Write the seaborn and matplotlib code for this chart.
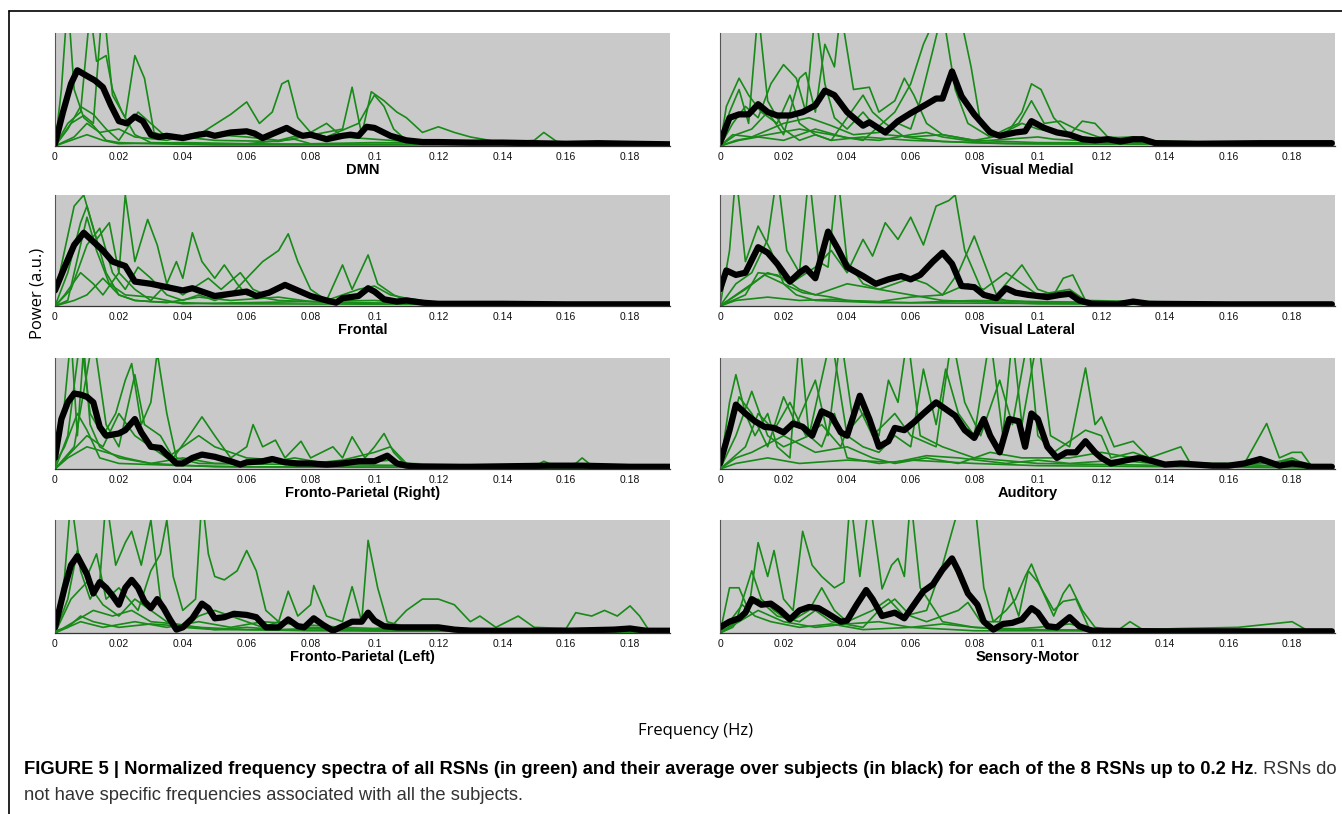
import numpy as np
import pandas as pd
import seaborn as sns
import matplotlib
matplotlib.use("Agg")
from matplotlib import pyplot as plt
from matplotlib.ticker import FixedLocator, FuncFormatter
from matplotlib.lines import Line2D

# Panel names, in reading order (left column first row, right column first row, ...)
panel_names = ["DMN", "Visual Medial", "Frontal", "Visual Lateral",
               "Fronto-Parietal (Right)", "Auditory",
               "Fronto-Parietal (Left)", "Sensory-Motor"]

tick_freqs = [0, 0.02, 0.04, 0.06, 0.08, 0.1, 0.12, 0.14, 0.16, 0.18]

# Average spectra (black), (frequency Hz, normalized power)
dmn_mean = [(0, 0.02), (0.0025, 0.30), (0.005, 0.55), (0.007, 0.67), (0.01, 0.62), (0.0125, 0.58),
            (0.015, 0.52), (0.0175, 0.36), (0.02, 0.22), (0.0225, 0.20), (0.025, 0.26), (0.0275, 0.22),
            (0.03, 0.10), (0.0325, 0.08), (0.035, 0.09), (0.04, 0.07), (0.045, 0.10), (0.0475, 0.11),
            (0.05, 0.09), (0.055, 0.12), (0.06, 0.13), (0.0625, 0.11), (0.065, 0.07), (0.07, 0.13),
            (0.0725, 0.16), (0.075, 0.12), (0.0775, 0.09), (0.08, 0.10), (0.085, 0.06), (0.09, 0.09),
            (0.0925, 0.10), (0.095, 0.09), (0.0975, 0.17), (0.1, 0.16), (0.105, 0.09), (0.11, 0.05),
            (0.115, 0.035), (0.12, 0.035), (0.13, 0.03), (0.14, 0.03), (0.15, 0.025), (0.16, 0.02),
            (0.17, 0.025), (0.18, 0.02), (0.1925, 0.015)]
vm_mean = [(0, 0.03), (0.003, 0.25), (0.006, 0.28), (0.009, 0.28), (0.012, 0.37), (0.015, 0.30),
           (0.018, 0.27), (0.022, 0.27), (0.026, 0.30), (0.03, 0.36), (0.033, 0.49), (0.036, 0.45),
           (0.04, 0.30), (0.045, 0.18), (0.047, 0.21), (0.052, 0.12), (0.056, 0.22), (0.06, 0.29),
           (0.065, 0.37), (0.068, 0.42), (0.07, 0.42), (0.073, 0.66), (0.076, 0.44), (0.08, 0.28),
           (0.085, 0.12), (0.088, 0.09), (0.093, 0.12), (0.096, 0.13), (0.098, 0.22), (0.102, 0.16),
           (0.106, 0.12), (0.11, 0.10), (0.114, 0.06), (0.118, 0.05), (0.122, 0.06), (0.126, 0.04),
           (0.13, 0.06), (0.133, 0.06), (0.137, 0.025), (0.15, 0.02), (0.17, 0.025), (0.1925, 0.025)]
fr_mean = [(0, 0.14), (0.003, 0.35), (0.006, 0.55), (0.009, 0.66), (0.012, 0.58), (0.015, 0.50),
           (0.018, 0.40), (0.022, 0.36), (0.025, 0.22), (0.03, 0.20), (0.035, 0.17), (0.04, 0.14),
           (0.043, 0.16), (0.047, 0.12), (0.05, 0.09), (0.055, 0.11), (0.06, 0.13), (0.063, 0.09),
           (0.067, 0.12), (0.072, 0.19), (0.076, 0.14), (0.08, 0.09), (0.085, 0.05), (0.088, 0.03),
           (0.09, 0.07), (0.095, 0.09), (0.098, 0.16), (0.1, 0.13), (0.103, 0.06), (0.107, 0.04),
           (0.11, 0.05), (0.115, 0.03), (0.12, 0.02), (0.14, 0.02), (0.16, 0.015), (0.1925, 0.015)]
vl_mean = [(0, 0.15), (0.002, 0.32), (0.005, 0.28), (0.008, 0.30), (0.012, 0.53), (0.015, 0.48),
           (0.018, 0.38), (0.022, 0.22), (0.025, 0.30), (0.027, 0.34), (0.03, 0.25), (0.034, 0.67),
           (0.037, 0.52), (0.04, 0.35), (0.045, 0.27), (0.049, 0.20), (0.053, 0.24), (0.057, 0.27),
           (0.06, 0.24), (0.063, 0.28), (0.067, 0.40), (0.07, 0.48), (0.073, 0.38), (0.076, 0.18),
           (0.08, 0.17), (0.083, 0.10), (0.087, 0.07), (0.09, 0.16), (0.093, 0.12), (0.097, 0.10),
           (0.1, 0.09), (0.103, 0.08), (0.107, 0.10), (0.11, 0.11), (0.113, 0.05), (0.117, 0.02),
           (0.125, 0.015), (0.13, 0.04), (0.135, 0.02), (0.16, 0.015), (0.1925, 0.015)]
fpr_mean = [(0, 0.10), (0.002, 0.45), (0.004, 0.60), (0.006, 0.68), (0.008, 0.67), (0.01, 0.65),
            (0.012, 0.60), (0.014, 0.38), (0.016, 0.30), (0.02, 0.32), (0.022, 0.35), (0.025, 0.45),
            (0.027, 0.33), (0.03, 0.20), (0.033, 0.19), (0.035, 0.13), (0.038, 0.05), (0.04, 0.05),
            (0.043, 0.10), (0.046, 0.13), (0.05, 0.11), (0.055, 0.07), (0.058, 0.04), (0.06, 0.06),
            (0.065, 0.07), (0.068, 0.09), (0.072, 0.06), (0.076, 0.05), (0.08, 0.05), (0.085, 0.04),
            (0.09, 0.05), (0.095, 0.07), (0.1, 0.07), (0.104, 0.12), (0.107, 0.05), (0.11, 0.03),
            (0.115, 0.02), (0.13, 0.02), (0.155, 0.03), (0.165, 0.03), (0.18, 0.02), (0.1925, 0.02)]
aud_mean = [(0, 0.05), (0.003, 0.35), (0.005, 0.58), (0.008, 0.50), (0.011, 0.43), (0.014, 0.38),
            (0.017, 0.37), (0.02, 0.33), (0.023, 0.41), (0.026, 0.38), (0.029, 0.30), (0.032, 0.52),
            (0.035, 0.48), (0.038, 0.33), (0.04, 0.30), (0.044, 0.66), (0.047, 0.45), (0.05, 0.20),
            (0.053, 0.25), (0.055, 0.37), (0.058, 0.35), (0.061, 0.42), (0.064, 0.50), (0.068, 0.60),
            (0.071, 0.54), (0.074, 0.48), (0.077, 0.35), (0.08, 0.28), (0.083, 0.45), (0.085, 0.30),
            (0.088, 0.15), (0.091, 0.45), (0.094, 0.43), (0.096, 0.20), (0.098, 0.50), (0.1, 0.45),
            (0.103, 0.20), (0.106, 0.10), (0.109, 0.15), (0.112, 0.15), (0.115, 0.25), (0.118, 0.15),
            (0.12, 0.10), (0.123, 0.05), (0.128, 0.08), (0.132, 0.10), (0.135, 0.08), (0.14, 0.04),
            (0.145, 0.05), (0.15, 0.04), (0.155, 0.03), (0.16, 0.03), (0.165, 0.05), (0.17, 0.09),
            (0.173, 0.06), (0.176, 0.03), (0.18, 0.05), (0.183, 0.04), (0.186, 0.02), (0.1925, 0.02)]
fpl_mean = [(0, 0.05), (0.003, 0.40), (0.005, 0.60), (0.007, 0.68), (0.01, 0.52), (0.012, 0.35),
            (0.014, 0.45), (0.016, 0.40), (0.018, 0.33), (0.02, 0.25), (0.022, 0.40), (0.024, 0.47),
            (0.026, 0.40), (0.028, 0.28), (0.03, 0.22), (0.032, 0.30), (0.034, 0.22), (0.036, 0.12),
            (0.038, 0.03), (0.04, 0.05), (0.043, 0.13), (0.046, 0.26), (0.048, 0.22), (0.05, 0.13),
            (0.053, 0.14), (0.056, 0.17), (0.06, 0.16), (0.063, 0.14), (0.066, 0.05), (0.07, 0.05),
            (0.073, 0.12), (0.076, 0.06), (0.078, 0.05), (0.081, 0.13), (0.084, 0.07), (0.087, 0.02),
            (0.09, 0.06), (0.093, 0.10), (0.096, 0.10), (0.098, 0.18), (0.1, 0.11), (0.103, 0.06),
            (0.107, 0.05), (0.12, 0.05), (0.125, 0.03), (0.13, 0.02), (0.16, 0.02), (0.175, 0.03),
            (0.18, 0.04), (0.185, 0.02), (0.1925, 0.02)]
sm_mean = [(0, 0.05), (0.003, 0.10), (0.006, 0.13), (0.008, 0.18), (0.01, 0.30), (0.013, 0.25),
           (0.016, 0.26), (0.019, 0.20), (0.022, 0.12), (0.025, 0.20), (0.028, 0.23), (0.031, 0.22),
           (0.034, 0.17), (0.038, 0.10), (0.04, 0.11), (0.043, 0.25), (0.046, 0.38), (0.048, 0.30),
           (0.051, 0.15), (0.055, 0.18), (0.058, 0.13), (0.061, 0.25), (0.064, 0.37), (0.067, 0.43),
           (0.07, 0.56), (0.073, 0.66), (0.075, 0.55), (0.078, 0.35), (0.081, 0.25), (0.083, 0.10),
           (0.086, 0.03), (0.089, 0.08), (0.092, 0.09), (0.095, 0.12), (0.098, 0.22), (0.1, 0.18),
           (0.103, 0.06), (0.106, 0.05), (0.11, 0.14), (0.113, 0.06), (0.117, 0.02), (0.14, 0.015),
           (0.16, 0.015), (0.1925, 0.015)]

# Individual subject spectra (green)
dmn_subj = [
    [(0, 0), (0.002, 0.5), (0.004, 1.3), (0.006, 0.5), (0.009, 0.25), (0.012, 0.18), (0.016, 0.05),
     (0.02, 0.03), (0.03, 0.02), (0.05, 0.01), (0.1, 0.01), (0.19, 0.01)],
    [(0, 0), (0.004, 0.2), (0.008, 0.3), (0.011, 1.2), (0.013, 0.75), (0.016, 0.8), (0.018, 0.5),
     (0.021, 0.3), (0.025, 0.1), (0.03, 0.03), (0.05, 0.02), (0.19, 0.01)],
    [(0, 0), (0.005, 0.2), (0.009, 0.27), (0.012, 0.2), (0.015, 1.3), (0.018, 0.45), (0.022, 0.25),
     (0.025, 0.8), (0.028, 0.6), (0.031, 0.12), (0.035, 0.08), (0.045, 0.1), (0.055, 0.28),
     (0.06, 0.39), (0.064, 0.2), (0.068, 0.3), (0.071, 0.55), (0.073, 0.58), (0.076, 0.25),
     (0.08, 0.12), (0.085, 0.2), (0.09, 0.08), (0.12, 0.02), (0.19, 0.02)],
    [(0, 0), (0.004, 0.15), (0.008, 0.35), (0.012, 0.28), (0.016, 0.15), (0.02, 0.05), (0.026, 0.3),
     (0.03, 0.2), (0.034, 0.1), (0.04, 0.08), (0.05, 0.05), (0.07, 0.04), (0.09, 0.15), (0.093, 0.52),
     (0.096, 0.1), (0.099, 0.48), (0.103, 0.4), (0.107, 0.3), (0.11, 0.25), (0.115, 0.12),
     (0.12, 0.17), (0.125, 0.12), (0.13, 0.08), (0.14, 0.03), (0.15, 0.05), (0.153, 0.12),
     (0.157, 0.04), (0.165, 0.02), (0.19, 0.02)],
    [(0, 0), (0.006, 0.08), (0.01, 0.2), (0.014, 0.12), (0.02, 0.15), (0.025, 0.08), (0.035, 0.05),
     (0.045, 0.12), (0.05, 0.1), (0.06, 0.08), (0.07, 0.05), (0.08, 0.12), (0.085, 0.08),
     (0.095, 0.2), (0.1, 0.45), (0.103, 0.35), (0.106, 0.15), (0.11, 0.05), (0.13, 0.02), (0.19, 0.02)],
    [(0, 0), (0.005, 0.05), (0.01, 0.1), (0.015, 0.05), (0.02, 0.02), (0.04, 0.03), (0.06, 0.02),
     (0.075, 0.06), (0.08, 0.02), (0.1, 0.03), (0.19, 0.01)],
]
vm_subj = [
    [(0, 0), (0.003, 0.3), (0.006, 0.5), (0.009, 0.2), (0.012, 1.2), (0.015, 0.4), (0.02, 0.15),
     (0.025, 0.05), (0.03, 0.1), (0.035, 0.05), (0.045, 0.08), (0.06, 0.05), (0.08, 0.03),
     (0.1, 0.02), (0.19, 0.01)],
    [(0, 0), (0.004, 0.2), (0.008, 0.35), (0.012, 0.25), (0.016, 0.55), (0.02, 0.72), (0.024, 0.6),
     (0.027, 0.3), (0.03, 1.2), (0.033, 0.55), (0.036, 0.25), (0.04, 0.15), (0.045, 0.3),
     (0.048, 0.2), (0.052, 0.1), (0.06, 0.08), (0.07, 0.1), (0.08, 0.05), (0.1, 0.03), (0.19, 0.02)],
    [(0, 0), (0.005, 0.1), (0.01, 0.15), (0.015, 0.3), (0.02, 0.1), (0.025, 0.6), (0.027, 0.65),
     (0.03, 0.3), (0.033, 0.9), (0.036, 0.7), (0.038, 1.2), (0.042, 0.5), (0.047, 0.52), (0.05, 0.3),
     (0.055, 0.4), (0.058, 0.6), (0.061, 0.45), (0.065, 0.2), (0.07, 0.1), (0.08, 0.05), (0.09, 0.1),
     (0.095, 0.3), (0.098, 0.55), (0.101, 0.5), (0.105, 0.25), (0.11, 0.1), (0.12, 0.05), (0.19, 0.02)],
    [(0, 0), (0.005, 0.05), (0.015, 0.1), (0.025, 0.15), (0.035, 0.1), (0.045, 0.05), (0.055, 0.3),
     (0.06, 0.55), (0.064, 0.9), (0.068, 1.15), (0.072, 1.2), (0.076, 1.1), (0.079, 0.7),
     (0.082, 0.2), (0.088, 0.1), (0.095, 0.2), (0.1, 0.15), (0.11, 0.1), (0.114, 0.22), (0.118, 0.2),
     (0.122, 0.08), (0.13, 0.06), (0.135, 0.04), (0.19, 0.02)],
    [(0, 0), (0.004, 0.1), (0.01, 0.08), (0.02, 0.2), (0.028, 0.25), (0.035, 0.18), (0.042, 0.1),
     (0.05, 0.12), (0.056, 0.2), (0.06, 0.15), (0.063, 0.4), (0.067, 0.85), (0.07, 1.2), (0.074, 0.5),
     (0.078, 0.2), (0.085, 0.08), (0.09, 0.15), (0.094, 0.2), (0.098, 0.4), (0.102, 0.2),
     (0.107, 0.22), (0.112, 0.15), (0.12, 0.07), (0.13, 0.08), (0.14, 0.03), (0.19, 0.02)],
    [(0, 0), (0.006, 0.05), (0.012, 0.08), (0.02, 0.05), (0.03, 0.15), (0.04, 0.07), (0.05, 0.05),
     (0.06, 0.1), (0.065, 0.12), (0.07, 0.08), (0.08, 0.04), (0.1, 0.08), (0.105, 0.06),
     (0.12, 0.04), (0.19, 0.01)],
    [(0, 0), (0.002, 0.35), (0.006, 0.6), (0.009, 0.45), (0.013, 0.3), (0.018, 0.2), (0.022, 0.45),
     (0.025, 0.2), (0.03, 0.1), (0.035, 0.05), (0.045, 0.45), (0.048, 0.3), (0.052, 0.2),
     (0.058, 0.08), (0.07, 0.04), (0.09, 0.02), (0.19, 0.01)],
]
fr_subj = [
    [(0, 0.1), (0.003, 0.5), (0.006, 0.9), (0.009, 1.0), (0.012, 0.7), (0.016, 0.3), (0.02, 0.1),
     (0.025, 0.05), (0.03, 0.04), (0.05, 0.02), (0.19, 0.01)],
    [(0, 0), (0.004, 0.3), (0.008, 0.75), (0.01, 0.9), (0.013, 0.6), (0.017, 0.75), (0.02, 0.3),
     (0.022, 1.0), (0.025, 0.4), (0.029, 0.78), (0.032, 0.55), (0.035, 0.2), (0.038, 0.4),
     (0.04, 0.25), (0.043, 0.66), (0.046, 0.4), (0.05, 0.25), (0.053, 0.37), (0.057, 0.2),
     (0.06, 0.1), (0.07, 0.05), (0.09, 0.03), (0.19, 0.01)],
    [(0, 0), (0.005, 0.15), (0.01, 0.55), (0.014, 0.7), (0.018, 0.3), (0.022, 0.15), (0.026, 0.35),
     (0.03, 0.25), (0.035, 0.1), (0.04, 0.05), (0.045, 0.1), (0.05, 0.05), (0.055, 0.1), (0.06, 0.25),
     (0.065, 0.4), (0.07, 0.5), (0.073, 0.65), (0.076, 0.4), (0.08, 0.15), (0.085, 0.05),
     (0.09, 0.37), (0.093, 0.15), (0.098, 0.46), (0.101, 0.2), (0.106, 0.1), (0.11, 0.05),
     (0.12, 0.02), (0.19, 0.01)],
    [(0, 0), (0.003, 0.1), (0.008, 0.3), (0.012, 0.2), (0.015, 0.1), (0.02, 0.3), (0.025, 0.15),
     (0.03, 0.05), (0.035, 0.2), (0.04, 0.1), (0.048, 0.25), (0.052, 0.15), (0.058, 0.3),
     (0.062, 0.15), (0.066, 0.1), (0.072, 0.2), (0.078, 0.1), (0.085, 0.05), (0.095, 0.15),
     (0.1, 0.18), (0.105, 0.1), (0.11, 0.07), (0.115, 0.05), (0.12, 0.02), (0.19, 0.01)],
    [(0, 0), (0.006, 0.05), (0.01, 0.1), (0.015, 0.25), (0.02, 0.1), (0.025, 0.05), (0.035, 0.03),
     (0.045, 0.08), (0.055, 0.05), (0.07, 0.08), (0.08, 0.04), (0.1, 0.05), (0.11, 0.03), (0.19, 0.01)],
    [(0, 0), (0.004, 0.05), (0.01, 0.8), (0.013, 0.5), (0.017, 0.2), (0.022, 0.1), (0.03, 0.08),
     (0.04, 0.02), (0.06, 0.03), (0.08, 0.04), (0.1, 0.02), (0.19, 0.01)],
]
vl_subj = [
    [(0, 0), (0.003, 0.5), (0.005, 1.2), (0.008, 0.4), (0.012, 0.72), (0.016, 0.5), (0.02, 0.2),
     (0.024, 0.1), (0.03, 0.05), (0.05, 0.03), (0.19, 0.01)],
    [(0, 0), (0.005, 0.2), (0.01, 0.3), (0.015, 0.6), (0.018, 1.2), (0.021, 0.5), (0.025, 0.3),
     (0.028, 1.2), (0.031, 0.4), (0.034, 0.35), (0.037, 1.2), (0.04, 0.4), (0.045, 0.2),
     (0.05, 0.15), (0.06, 0.1), (0.07, 0.05), (0.1, 0.02), (0.19, 0.01)],
    [(0, 0), (0.008, 0.1), (0.012, 0.3), (0.018, 0.28), (0.022, 0.2), (0.03, 0.35), (0.035, 0.5),
     (0.04, 0.3), (0.045, 0.6), (0.048, 0.45), (0.052, 0.75), (0.056, 0.6), (0.06, 0.8),
     (0.064, 0.55), (0.068, 0.9), (0.072, 0.95), (0.074, 1.0), (0.077, 0.5), (0.08, 0.3),
     (0.083, 0.1), (0.09, 0.05), (0.1, 0.03), (0.19, 0.01)],
    [(0, 0), (0.01, 0.2), (0.015, 0.3), (0.02, 0.25), (0.025, 0.15), (0.03, 0.1), (0.04, 0.2),
     (0.05, 0.15), (0.06, 0.25), (0.065, 0.2), (0.07, 0.1), (0.075, 0.3), (0.08, 0.63), (0.083, 0.4),
     (0.087, 0.1), (0.09, 0.2), (0.095, 0.37), (0.1, 0.15), (0.105, 0.1), (0.108, 0.25),
     (0.111, 0.28), (0.115, 0.05), (0.12, 0.02), (0.13, 0.05), (0.135, 0.02), (0.19, 0.01)],
    [(0, 0), (0.008, 0.15), (0.014, 0.28), (0.02, 0.2), (0.026, 0.12), (0.035, 0.08), (0.04, 0.05),
     (0.05, 0.04), (0.06, 0.08), (0.07, 0.1), (0.078, 0.2), (0.083, 0.15), (0.09, 0.3), (0.095, 0.2),
     (0.1, 0.1), (0.11, 0.15), (0.115, 0.05), (0.19, 0.01)],
    [(0, 0), (0.005, 0.05), (0.015, 0.08), (0.025, 0.05), (0.035, 0.06), (0.045, 0.04), (0.06, 0.03),
     (0.08, 0.05), (0.1, 0.04), (0.19, 0.01)],
]
fpr_subj = [
    [(0, 0), (0.003, 0.6), (0.005, 1.2), (0.007, 0.3), (0.009, 1.1), (0.011, 0.4), (0.014, 0.2),
     (0.02, 0.1), (0.03, 0.05), (0.05, 0.02), (0.19, 0.01)],
    [(0, 0), (0.004, 0.3), (0.008, 1.2), (0.011, 0.5), (0.015, 0.3), (0.019, 0.5), (0.022, 0.8),
     (0.024, 0.95), (0.027, 0.4), (0.03, 0.6), (0.032, 1.05), (0.035, 0.5), (0.038, 0.1),
     (0.045, 0.05), (0.19, 0.01)],
    [(0, 0), (0.006, 0.2), (0.012, 1.2), (0.016, 0.4), (0.02, 0.2), (0.025, 0.85), (0.028, 0.4),
     (0.033, 0.3), (0.037, 0.1), (0.042, 0.3), (0.046, 0.47), (0.05, 0.3), (0.055, 0.1), (0.06, 0.2),
     (0.062, 0.4), (0.065, 0.2), (0.069, 0.26), (0.072, 0.1), (0.077, 0.25), (0.08, 0.1),
     (0.087, 0.2), (0.09, 0.1), (0.093, 0.29), (0.097, 0.1), (0.1, 0.2), (0.103, 0.32),
     (0.106, 0.15), (0.11, 0.03), (0.19, 0.01)],
    [(0, 0), (0.005, 0.15), (0.01, 0.3), (0.015, 0.2), (0.02, 0.5), (0.025, 0.3), (0.03, 0.2),
     (0.035, 0.1), (0.045, 0.3), (0.05, 0.2), (0.06, 0.1), (0.07, 0.08), (0.08, 0.05), (0.09, 0.08),
     (0.1, 0.15), (0.105, 0.2), (0.11, 0.05), (0.15, 0.02), (0.153, 0.07), (0.157, 0.02),
     (0.163, 0.05), (0.165, 0.1), (0.168, 0.03), (0.19, 0.01)],
    [(0, 0), (0.004, 0.1), (0.01, 0.2), (0.016, 0.15), (0.022, 0.1), (0.03, 0.05), (0.04, 0.1),
     (0.05, 0.05), (0.065, 0.05), (0.075, 0.1), (0.085, 0.05), (0.095, 0.05), (0.105, 0.08),
     (0.115, 0.02), (0.19, 0.01)],
    [(0, 0.05), (0.003, 0.2), (0.007, 0.5), (0.01, 0.35), (0.014, 0.1), (0.02, 0.05), (0.04, 0.03),
     (0.06, 0.02), (0.19, 0.01)],
]
aud_subj = [
    [(0, 0), (0.003, 0.6), (0.005, 0.85), (0.008, 0.5), (0.011, 0.3), (0.015, 0.5), (0.018, 0.2),
     (0.022, 0.1), (0.025, 1.2), (0.028, 0.3), (0.032, 0.2), (0.036, 0.5), (0.04, 0.1), (0.05, 0.05),
     (0.06, 0.08), (0.08, 0.05), (0.1, 0.03), (0.19, 0.01)],
    [(0, 0), (0.002, 0.2), (0.006, 0.65), (0.01, 0.5), (0.015, 0.2), (0.02, 0.65), (0.024, 0.4),
     (0.03, 0.8), (0.034, 0.3), (0.038, 1.2), (0.042, 0.4), (0.045, 0.5), (0.05, 0.3), (0.053, 0.8),
     (0.056, 0.6), (0.059, 1.2), (0.063, 0.3), (0.07, 0.2), (0.08, 0.1), (0.1, 0.05), (0.19, 0.01)],
    [(0, 0), (0.005, 0.3), (0.01, 0.7), (0.015, 0.3), (0.02, 0.2), (0.028, 0.3), (0.035, 1.2),
     (0.04, 0.3), (0.045, 0.2), (0.05, 0.15), (0.055, 0.3), (0.06, 0.2), (0.064, 0.9), (0.068, 0.4),
     (0.071, 0.9), (0.075, 0.5), (0.08, 0.3), (0.085, 1.2), (0.089, 0.3), (0.092, 1.2), (0.095, 0.4),
     (0.1, 1.2), (0.104, 0.3), (0.11, 0.2), (0.115, 0.91), (0.118, 0.4), (0.12, 0.47), (0.124, 0.2),
     (0.13, 0.25), (0.135, 0.1), (0.145, 0.2), (0.148, 0.05), (0.19, 0.02)],
    [(0, 0), (0.008, 0.2), (0.012, 0.5), (0.017, 0.35), (0.022, 0.6), (0.027, 0.3), (0.032, 0.4),
     (0.038, 0.2), (0.043, 0.6), (0.048, 0.3), (0.055, 0.5), (0.06, 0.3), (0.068, 0.2), (0.073, 1.2),
     (0.077, 0.6), (0.082, 0.3), (0.088, 0.8), (0.092, 0.4), (0.097, 1.2), (0.1, 0.3), (0.105, 0.15),
     (0.11, 0.25), (0.115, 0.35), (0.12, 0.3), (0.123, 0.1), (0.13, 0.15), (0.14, 0.05),
     (0.165, 0.05), (0.172, 0.41), (0.176, 0.1), (0.18, 0.15), (0.183, 0.15), (0.186, 0.03),
     (0.19, 0.02)],
    [(0, 0), (0.005, 0.1), (0.01, 0.15), (0.02, 0.3), (0.03, 0.15), (0.04, 0.2), (0.048, 0.1),
     (0.055, 0.05), (0.065, 0.1), (0.075, 0.05), (0.085, 0.15), (0.095, 0.1), (0.11, 0.1),
     (0.12, 0.15), (0.13, 0.1), (0.14, 0.05), (0.16, 0.03), (0.17, 0.05), (0.18, 0.08),
     (0.185, 0.02), (0.19, 0.01)],
    [(0, 0), (0.005, 0.05), (0.015, 0.1), (0.025, 0.05), (0.04, 0.08), (0.055, 0.06), (0.065, 0.12),
     (0.075, 0.1), (0.09, 0.05), (0.1, 0.08), (0.11, 0.05), (0.125, 0.08), (0.14, 0.04),
     (0.16, 0.04), (0.175, 0.06), (0.18, 0.1), (0.185, 0.03), (0.19, 0.01)],
]
fpl_subj = [
    [(0, 0), (0.003, 0.5), (0.005, 1.2), (0.008, 0.55), (0.011, 0.3), (0.014, 0.45), (0.016, 1.2),
     (0.019, 0.6), (0.022, 0.8), (0.024, 0.9), (0.027, 0.6), (0.03, 1.0), (0.033, 0.3),
     (0.036, 0.1), (0.04, 0.05), (0.05, 0.03), (0.19, 0.01)],
    [(0, 0), (0.004, 0.3), (0.007, 0.73), (0.01, 0.5), (0.013, 0.7), (0.016, 0.3), (0.02, 0.4),
     (0.023, 0.3), (0.026, 0.2), (0.03, 0.55), (0.033, 0.7), (0.035, 1.0), (0.037, 0.5), (0.04, 0.2),
     (0.044, 0.3), (0.046, 1.2), (0.048, 0.7), (0.05, 0.5), (0.053, 0.47), (0.057, 0.55),
     (0.06, 0.73), (0.063, 0.55), (0.066, 0.2), (0.07, 0.1), (0.08, 0.05), (0.1, 0.03), (0.19, 0.01)],
    [(0, 0), (0.005, 0.3), (0.01, 0.45), (0.015, 0.25), (0.02, 0.15), (0.025, 0.3), (0.03, 0.2),
     (0.035, 0.1), (0.04, 0.05), (0.045, 0.15), (0.05, 0.2), (0.055, 0.15), (0.06, 0.1),
     (0.065, 0.05), (0.07, 0.1), (0.073, 0.37), (0.076, 0.15), (0.08, 0.25), (0.081, 0.42),
     (0.085, 0.15), (0.09, 0.1), (0.093, 0.41), (0.096, 0.1), (0.098, 0.82), (0.101, 0.4),
     (0.104, 0.1), (0.11, 0.05), (0.19, 0.01)],
    [(0, 0), (0.008, 0.1), (0.015, 0.05), (0.025, 0.1), (0.035, 0.05), (0.045, 0.1), (0.055, 0.05),
     (0.065, 0.1), (0.075, 0.08), (0.09, 0.05), (0.1, 0.04), (0.105, 0.05), (0.11, 0.2),
     (0.115, 0.3), (0.12, 0.3), (0.125, 0.25), (0.13, 0.1), (0.133, 0.15), (0.138, 0.05),
     (0.145, 0.15), (0.15, 0.05), (0.16, 0.04), (0.163, 0.18), (0.168, 0.15), (0.172, 0.2),
     (0.176, 0.15), (0.18, 0.24), (0.183, 0.15), (0.186, 0.02), (0.19, 0.01)],
    [(0, 0), (0.006, 0.1), (0.012, 0.2), (0.018, 0.15), (0.024, 0.2), (0.03, 0.1), (0.038, 0.08),
     (0.045, 0.05), (0.05, 0.03), (0.06, 0.05), (0.07, 0.03), (0.08, 0.04), (0.1, 0.02), (0.19, 0.01)],
    [(0, 0.02), (0.004, 0.05), (0.008, 0.15), (0.012, 0.1), (0.02, 0.05), (0.03, 0.08),
     (0.045, 0.05), (0.06, 0.03), (0.08, 0.02), (0.19, 0.01)],
]
sm_subj = [
    [(0, 0), (0.003, 0.4), (0.006, 0.4), (0.009, 0.2), (0.012, 0.8), (0.015, 0.5), (0.017, 0.73),
     (0.02, 0.3), (0.023, 0.2), (0.026, 0.9), (0.029, 0.6), (0.032, 0.5), (0.036, 0.4),
     (0.039, 0.45), (0.041, 1.2), (0.044, 0.5), (0.047, 1.2), (0.05, 0.6), (0.051, 0.39),
     (0.054, 0.6), (0.056, 0.66), (0.058, 0.5), (0.06, 1.2), (0.063, 0.4), (0.07, 0.1),
     (0.08, 0.05), (0.1, 0.03), (0.19, 0.01)],
    [(0, 0), (0.005, 0.1), (0.01, 0.55), (0.013, 0.3), (0.017, 0.2), (0.022, 0.1), (0.028, 0.2),
     (0.032, 0.4), (0.036, 0.2), (0.04, 0.1), (0.048, 0.2), (0.053, 0.3), (0.058, 0.15),
     (0.065, 0.2), (0.07, 0.6), (0.074, 1.0), (0.078, 1.2), (0.08, 1.2), (0.083, 0.4), (0.086, 0.1),
     (0.09, 0.2), (0.093, 0.3), (0.096, 0.5), (0.098, 0.61), (0.101, 0.4), (0.105, 0.15),
     (0.108, 0.35), (0.11, 0.43), (0.114, 0.2), (0.118, 0.05), (0.125, 0.02), (0.129, 0.1),
     (0.133, 0.03), (0.145, 0.04), (0.163, 0.05), (0.18, 0.1), (0.185, 0.02), (0.19, 0.01)],
    [(0, 0), (0.004, 0.05), (0.008, 0.2), (0.012, 0.3), (0.018, 0.15), (0.025, 0.1), (0.03, 0.2),
     (0.035, 0.1), (0.045, 0.05), (0.05, 0.2), (0.055, 0.3), (0.06, 0.15), (0.065, 0.1),
     (0.075, 0.2), (0.078, 0.27), (0.082, 0.1), (0.088, 0.1), (0.091, 0.4), (0.094, 0.15),
     (0.097, 0.55), (0.1, 0.45), (0.105, 0.2), (0.108, 0.28), (0.112, 0.3), (0.116, 0.05),
     (0.12, 0.02), (0.19, 0.01)],
    [(0, 0), (0.006, 0.1), (0.012, 0.2), (0.02, 0.1), (0.03, 0.05), (0.04, 0.08), (0.05, 0.1),
     (0.06, 0.05), (0.07, 0.08), (0.08, 0.05), (0.09, 0.03), (0.1, 0.05), (0.11, 0.08),
     (0.12, 0.02), (0.19, 0.01)],
    [(0, 0), (0.003, 0.1), (0.007, 0.25), (0.011, 0.15), (0.016, 0.1), (0.025, 0.05), (0.035, 0.08),
     (0.045, 0.03), (0.06, 0.05), (0.08, 0.02), (0.1, 0.02), (0.19, 0.01)],
]

means = [dmn_mean, vm_mean, fr_mean, vl_mean, fpr_mean, aud_mean, fpl_mean, sm_mean]
subjects = [dmn_subj, vm_subj, fr_subj, vl_subj, fpr_subj, aud_subj, fpl_subj, sm_subj]

caption_bold = ("FIGURE 5 | Normalized frequency spectra of all RSNs (in green) and their average "
                "over subjects (in black) for each of the 8 RSNs up to 0.2 Hz")
caption_rest1 = ". RSNs do"
caption_line2 = "not have specific frequencies associated with all the subjects."

# long-form tables for seaborn
rows = []
for name, subj in zip(panel_names, subjects):
    for k, curve in enumerate(subj):
        for f, p in curve:
            rows.append((name, k, f, p))
green_df = pd.DataFrame(rows, columns=["panel", "subject", "freq", "power"])
rows = []
for name, m in zip(panel_names, means):
    for f, p in m:
        rows.append((name, f, p))
mean_df = pd.DataFrame(rows, columns=["panel", "freq", "power"])

sns.set_style("white", {"axes.facecolor": "#c9c9c9"})
plt.rcParams["font.family"] = ["Liberation Sans", "DejaVu Sans"]
plt.rcParams["text.color"] = "black"
plt.rcParams["axes.labelcolor"] = "black"

W, H = 1342, 814
fig = plt.figure(figsize=(W / 100, H / 100), dpi=100)

# axes boxes in pixels: (left, top, right, bottom)
col_x = [(55, 670), (720, 1335)]
row_y = [(33, 146), (195, 306), (358, 469), (520, 633)]

for i, name in enumerate(panel_names):
    r, c = divmod(i, 2)
    x0, x1 = col_x[c]
    y0, y1 = row_y[r]
    ax = fig.add_axes([x0 / W, 1 - y1 / H, (x1 - x0) / W, (y1 - y0) / H])
    sub = green_df[green_df.panel == name]
    sns.lineplot(data=sub, x="freq", y="power", units="subject", estimator=None,
                 color="#178a17", linewidth=1.2, ax=ax, legend=False)
    sns.lineplot(data=mean_df[mean_df.panel == name], x="freq", y="power",
                 color="black", linewidth=4.5, ax=ax, legend=False)
    ax.set_xlim(0, 0.1925 if c == 0 else 0.1935)
    ax.set_ylim(0, 1)
    ax.set_yticks([])
    ax.set_ylabel("")
    ax.xaxis.set_major_locator(FixedLocator(tick_freqs))
    ax.xaxis.set_major_formatter(FuncFormatter(lambda v, pos: f"{v:g}"))
    ax.tick_params(axis="x", direction="in", length=3, width=0.8, colors="#333333",
                   labelsize=7.5, labelcolor="#111111", pad=4)
    for lab in ax.get_xticklabels():
        lab.set_family(["Liberation Sans Narrow", "Liberation Sans"])
    ax.set_xlabel(name, fontsize=10.5, fontweight="bold", labelpad=1, color="black")
    for s in ["top", "right"]:
        ax.spines[s].set_visible(False)
    ax.spines["left"].set_color("#555555")
    ax.spines["left"].set_linewidth(0.8)
    ax.spines["bottom"].set_color("#333333")
    ax.spines["bottom"].set_linewidth(0.9)

fig.text(38 / W, 1 - 293 / H, "Power (a.u.)", rotation=90, ha="center", va="center",
         fontsize=12, family=["Open Sans", "DejaVu Sans"])
fig.text(695 / W, 1 - 731 / H, "Frequency (Hz)", ha="center", va="center",
         fontsize=12, family=["Open Sans", "DejaVu Sans"])

# frame around the figure
fig.add_artist(Line2D([9 / W, 1], [1 - 11 / H, 1 - 11 / H], color="black", lw=1.2))
fig.add_artist(Line2D([9 / W, 9 / W], [0, 1 - 11 / H], color="black", lw=1.2))

# caption, fitted to the line width of the reference
renderer = fig.canvas.get_renderer()
fs = 10
t1 = fig.text(24 / W, 1 - 770 / H, caption_bold, fontsize=fs, fontweight="bold", va="center")
t2 = fig.text(0, 1 - 770 / H, caption_rest1, fontsize=fs, va="center", color="#333333")
w1 = t1.get_window_extent(renderer).width
w2 = t2.get_window_extent(renderer).width
fs = fs * (1314 / (w1 + w2))
t1.set_fontsize(fs)
t2.set_fontsize(fs)
bb = t1.get_window_extent(renderer)
t2.set_x(bb.x1 / W)
fig.text(24 / W, 1 - 796 / H, caption_line2, fontsize=fs, va="center", color="#333333")

fig.savefig("out.png", dpi=100)
